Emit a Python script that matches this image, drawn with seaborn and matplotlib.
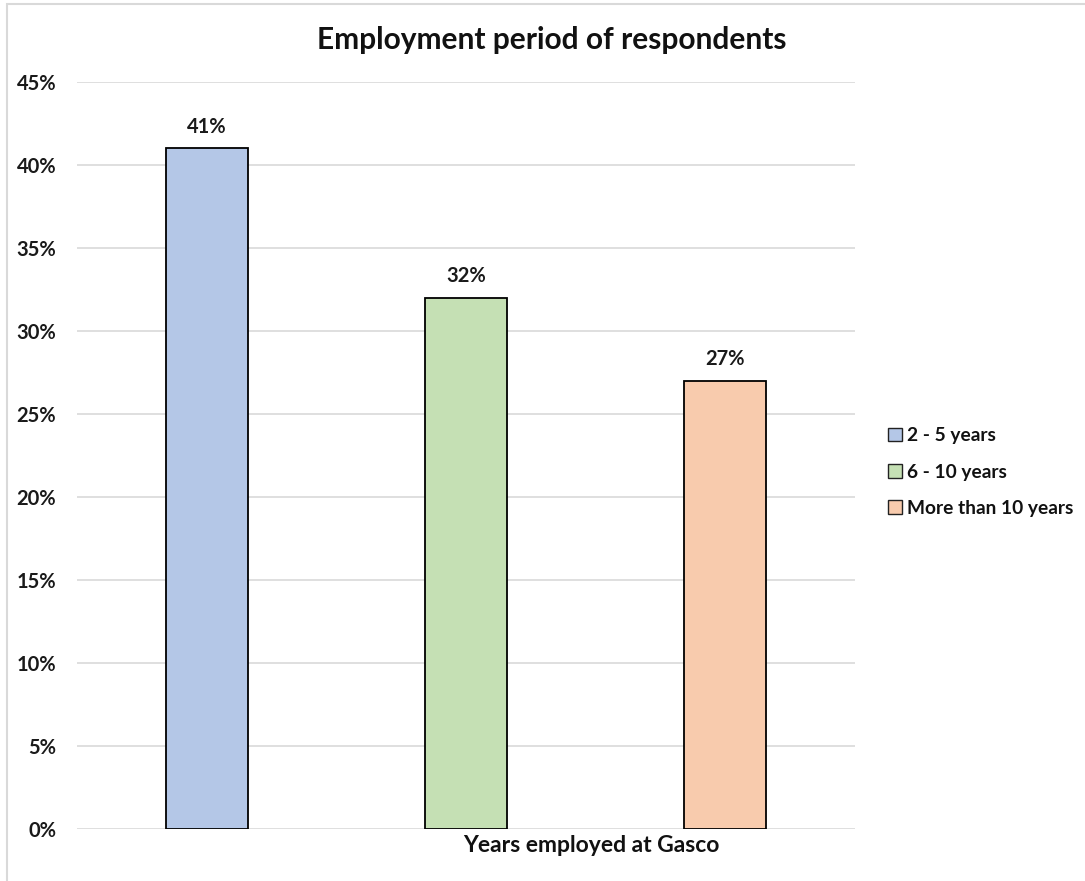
import matplotlib
matplotlib.use("Agg")
import matplotlib.pyplot as plt
import seaborn as sns
import pandas as pd
from matplotlib.patches import Rectangle
from matplotlib.ticker import PercentFormatter, MultipleLocator

# Data
categories = ["2 - 5 years", "6 - 10 years", "More than 10 years"]
shares = [0.41, 0.32, 0.27]
colors = ["#B4C7E7", "#C5E0B4", "#F8CBAD"]
title = "Employment period of respondents"
axis_label = "Years employed at Gasco"

df = pd.DataFrame({"period": categories, "share": shares})

sns.set_theme(style="white")
plt.rcParams["font.family"] = ["Lato", "DejaVu Sans"]
plt.rcParams["font.weight"] = "bold"

fig = plt.figure(figsize=(10.85, 8.81), dpi=100)
ax = fig.add_axes([77 / 1085, 1 - 829 / 881, (855 - 77) / 1085, (829 - 82) / 881])

sns.barplot(data=df, x="period", y="share", hue="period", palette=colors,
            width=0.316, edgecolor="black", linewidth=1.3, ax=ax,
            legend=False, dodge=False, saturation=1)

ax.set_ylim(0, 0.45)
ax.set_xlim(-0.5, len(categories) - 0.5)
ax.yaxis.set_major_locator(MultipleLocator(0.05))
ax.yaxis.set_major_formatter(PercentFormatter(1.0, decimals=0))
ax.grid(axis="y", color="#D9D9D9", linewidth=1.2)
ax.set_axisbelow(True)
for s in ax.spines.values():
    s.set_visible(False)
ax.set_xticks([])
ax.set_xlabel("")
ax.set_ylabel("")
ax.tick_params(axis="y", length=0, pad=15, labelsize=14.5)
for lab in ax.get_yticklabels():
    lab.set_fontweight("bold")
    lab.set_color("#1a1a1a")

# Value labels above bars
for i, v in enumerate(shares):
    ax.text(i, v + 0.007, f"{v:.0%}", ha="center", va="bottom",
            fontsize=14.5, fontweight="bold", color="#1a1a1a")

# Category axis title
fig.text(591 / 1085, 1 - 845 / 881, axis_label, ha="center", va="center",
         fontsize=16.5, fontweight="bold", color="#111111")

# Chart title
fig.text(552 / 1085, 1 - 40 / 881, title, ha="center", va="center",
         fontsize=21.5, fontweight="bold", color="#111111")

# Legend
handles = [Rectangle((0, 0), 1, 1, facecolor=c, edgecolor="#222222", linewidth=1.0)
           for c in colors]
leg = fig.legend(handles, categories, loc="center left",
                 bbox_to_anchor=(871 / 1085, 1 - 472 / 881), frameon=False,
                 handlelength=0.7, handleheight=0.7, handletextpad=0.3,
                 labelspacing=1.0, prop={"size": 13.8, "weight": "bold"})
for t in leg.get_texts():
    t.set_color("#111111")

# Chart area border
fig.patches.append(Rectangle((7 / 1085, -0.05), 1.2, 1 - 4 / 881 + 0.05,
                             transform=fig.transFigure, fill=False,
                             edgecolor="#D9D9D9", linewidth=1.5))

fig.savefig("out.png", dpi=100)
